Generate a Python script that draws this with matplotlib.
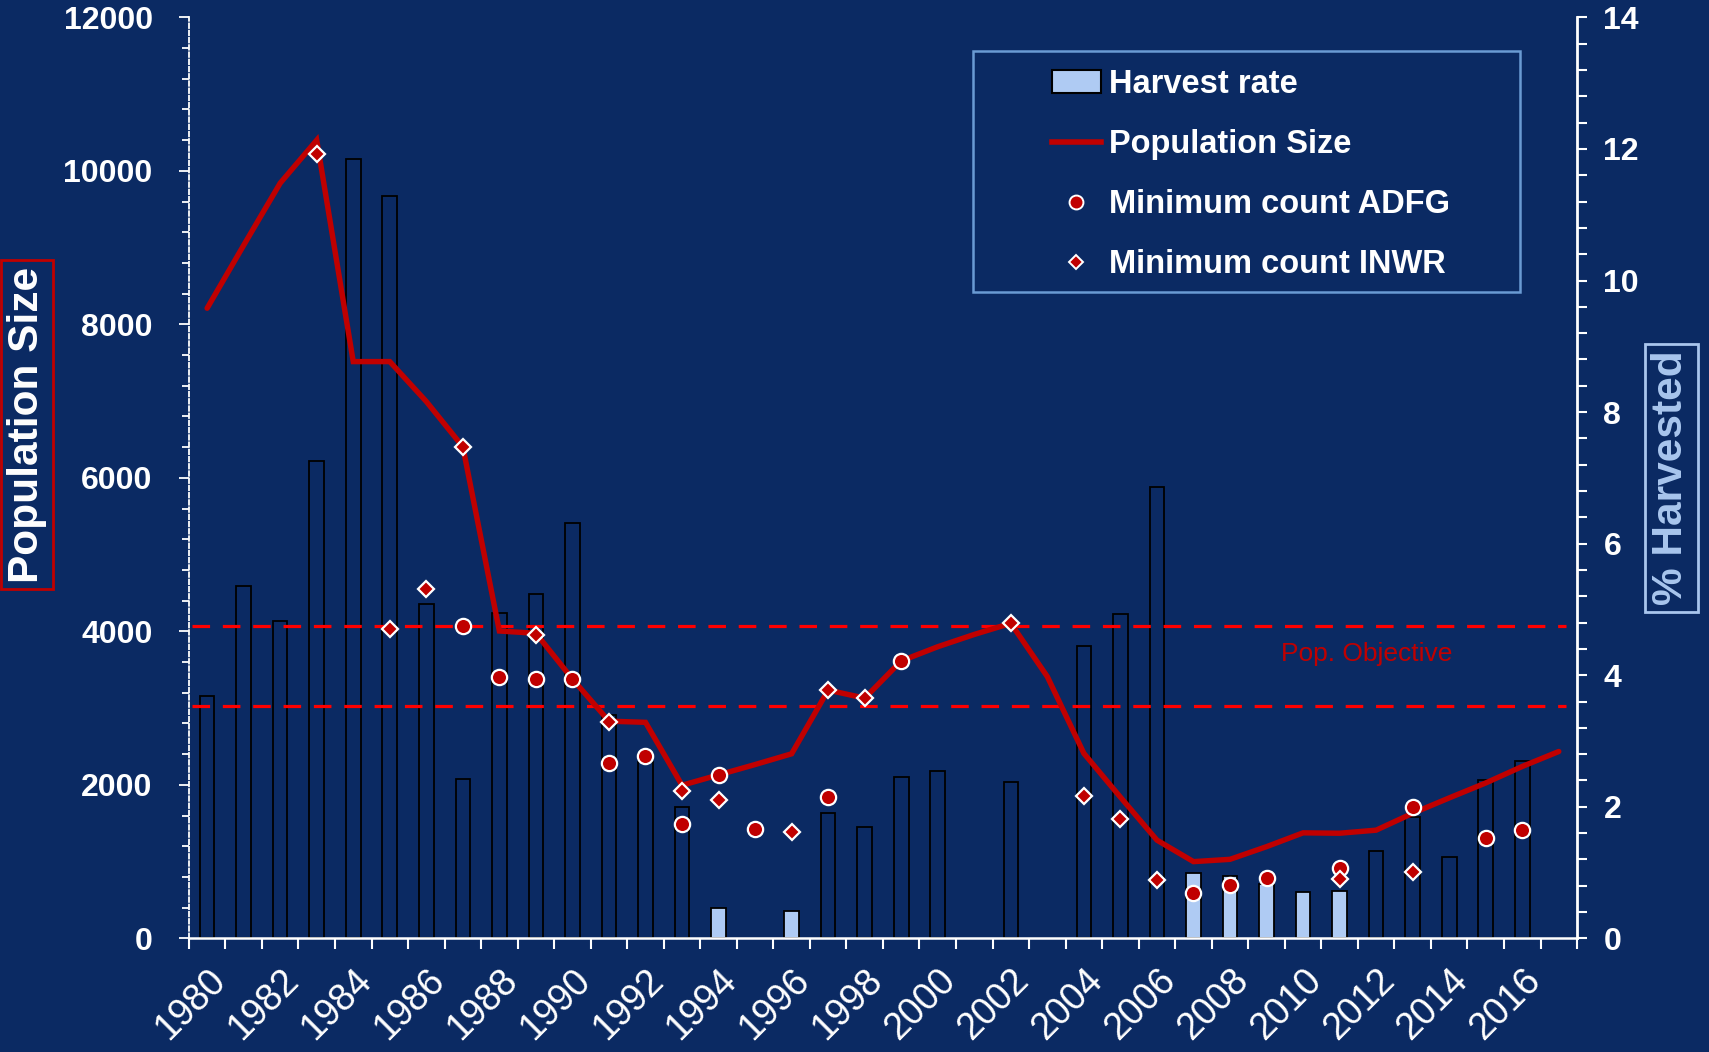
import numpy as np
import matplotlib.pyplot as plt
import matplotlib as mpl
from matplotlib.lines import Line2D
from matplotlib.patches import Patch, Rectangle
from matplotlib.ticker import MultipleLocator

mpl.rcParams['font.family'] = ['Liberation Sans', 'DejaVu Sans']

# data
years = np.arange(1980, 2018)
pop_size = [8210, 9030, 9840, 10400, 7515, 7515, 6995, 6405, 4005, 3975,
            3380, 2830, 2815, 1995, 2130, 2265, 2405, 3235, 3130, 3615,
            3800, 3960, 4105, 3410, 2410, 1840, 1280, 1000, 1030, 1195,
            1375, 1370, 1410, 1630, 1830, 2025, 2240, 2435]
harvest_pct = [3.68, 5.36, 4.82, 7.26, 11.85, 11.28, 5.09, 2.43, 4.95, 5.23,
               6.32, 3.40, 2.68, 2.00, 0.46, np.nan, 0.41, 1.90, 1.69, 2.46,
               2.55, np.nan, 2.38, np.nan, 4.45, 4.93, 6.86, 0.99, 0.95, 0.82,
               0.71, 0.72, 1.33, 1.84, 1.24, 2.40, 2.69, np.nan]
light_years = [1994, 1996, 2007, 2008, 2009, 2010, 2011]
adfg_years = [1987, 1988, 1989, 1990, 1991, 1992, 1993, 1994, 1995, 1997,
              1999, 2007, 2008, 2009, 2011, 2013, 2015, 2016]
adfg_counts = [4070, 3400, 3380, 3375, 2280, 2375, 1490, 2130, 1420, 1840,
               3615, 590, 695, 790, 915, 1715, 1310, 1410]
inwr_years = [1983, 1985, 1986, 1987, 1989, 1991, 1993, 1994, 1996, 1997,
              1998, 2002, 2004, 2005, 2006, 2011, 2013]
inwr_counts = [10215, 4030, 4550, 6405, 3955, 2825, 1925, 1805, 1390, 3235,
               3130, 4105, 1860, 1555, 760, 775, 870]
objective = [3030, 4070]
year_labels = [str(y) for y in range(1980, 2017, 2)]

navy = '#0B2A63'
red = '#C00000'
light = '#AFCBF3'
pale = '#A9C6EE'

fig = plt.figure(figsize=(17.09, 10.52), dpi=100, facecolor=navy)
ax1 = fig.add_axes([0.1105, 0.108, 0.8123, 0.8755])
ax2 = ax1.twinx()
ax1.set_zorder(ax2.get_zorder() + 1)
ax1.patch.set_visible(False)
ax2.patch.set_facecolor(navy)

# harvest bars (right axis)
bar_cols = [light if y in light_years else navy for y in years]
ax2.bar(years, harvest_pct, 0.4, color=bar_cols, edgecolor='black', linewidth=1.3)

# population objective band
ax1.hlines(objective, 1979.6, 2017.2, colors='#FF0000', linewidth=2.3,
           linestyles=(0, (5.5, 4)), zorder=2)
ax1.text(2011.75, 3700, 'Pop. Objective', color=red, fontsize=19,
         ha='center', va='center')

ax1.plot(years, pop_size, color=red, lw=3.9, solid_capstyle='round',
         solid_joinstyle='miter', zorder=3)
ax1.plot(adfg_years, adfg_counts, 'o', ms=11, mfc=red, mec='white', mew=1.6, zorder=4)
ax1.plot(inwr_years, inwr_counts, 'D', ms=8.5, mfc=red, mec='white', mew=1.6, zorder=4)

ax1.set_xlim(1979.5, 2017.5)
ax1.set_ylim(0, 12000)
ax2.set_ylim(0, 14)

# spines
for s in ['top', 'right']:
    ax1.spines[s].set_visible(False)
for s in ['top', 'left', 'bottom']:
    ax2.spines[s].set_visible(False)
ax1.spines['left'].set_color('white')
ax1.spines['left'].set_linestyle((0, (2.5, 1.5)))
ax1.spines['left'].set_linewidth(1.3)
ax1.spines['bottom'].set_color('white')
ax1.spines['bottom'].set_linewidth(1.8)
ax2.spines['right'].set_color('white')
ax2.spines['right'].set_linewidth(2)

# left axis ticks
ax1.yaxis.set_minor_locator(MultipleLocator(400))
ax1.set_yticks(np.arange(0, 12001, 2000))
ax1.set_yticklabels([str(v) for v in range(0, 12001, 2000)], fontweight='bold')
ax1.tick_params(axis='y', which='major', direction='out', length=7, width=1.3,
                color='white', labelcolor='white', labelsize=23, pad=19)
ax1.tick_params(axis='y', which='minor', direction='out', length=5, width=1.3, color='white')

# right axis ticks
ax2.yaxis.set_minor_locator(MultipleLocator(0.4))
ax2.set_yticks(np.arange(0, 15, 2))
ax2.set_yticklabels([str(v) for v in range(0, 15, 2)], fontweight='bold')
ax2.tick_params(axis='y', which='major', direction='out', length=7, width=1.5,
                color='white', labelcolor='white', labelsize=23, pad=12)
ax2.tick_params(axis='y', which='minor', direction='out', length=7, width=1.5, color='white')

# x axis: boundary ticks + labels at even years
ax1.set_xticks(np.arange(1979.5, 2018, 1), minor=True)
ax1.set_xticks(np.arange(1980, 2017, 2))
ax1.set_xticklabels(year_labels)
ax1.tick_params(axis='x', which='minor', direction='out', length=8, width=1.5, color='white')
ax1.tick_params(axis='x', which='major', length=0, labelcolor='white', labelsize=27, pad=17)
for lab in ax1.get_xticklabels():
    lab.set(rotation=45, ha='right', va='top', rotation_mode='anchor')

# axis titles in boxes
fig.text(27 / 1709, 1 - 424.5 / 1052, 'Population Size', rotation=90, fontsize=30.5,
         fontweight='bold', color='white', ha='center', va='center',
         bbox=dict(boxstyle='square,pad=0.15', fc='none', ec=red, lw=2))
fig.text(1671.5 / 1709, 1 - 478 / 1052, '% Harvested', rotation=90, fontsize=30.5,
         fontweight='bold', color=pale, ha='center', va='center',
         bbox=dict(boxstyle='square,pad=0.15', fc='none', ec=pale, lw=2))

# legend
handles = [Patch(facecolor=light, edgecolor='black', linewidth=1.5),
           Line2D([], [], color=red, lw=4),
           Line2D([], [], ls='none', marker='o', ms=10, mfc=red, mec='white', mew=1.4),
           Line2D([], [], ls='none', marker='D', ms=7, mfc=red, mec='white', mew=1.4)]
labels = ['Harvest rate', 'Population Size', 'Minimum count ADFG', 'Minimum count INWR']
fig.legend(handles, labels, loc='upper left', bbox_to_anchor=(1052 / 1709, 1 - 69 / 1052),
           frameon=False, prop={'size': 23.5, 'weight': 'bold'}, labelcolor='white',
           handlelength=1.5, handletextpad=0.25, labelspacing=0.89,
           borderpad=0, borderaxespad=0)
fig.add_artist(Rectangle((973 / 1709, 1 - 292 / 1052), 547 / 1709, 241 / 1052,
                         transform=fig.transFigure, fill=False, ec='#6A9BD3', lw=1.8))

fig.savefig('out.png', dpi=100, facecolor=navy)
